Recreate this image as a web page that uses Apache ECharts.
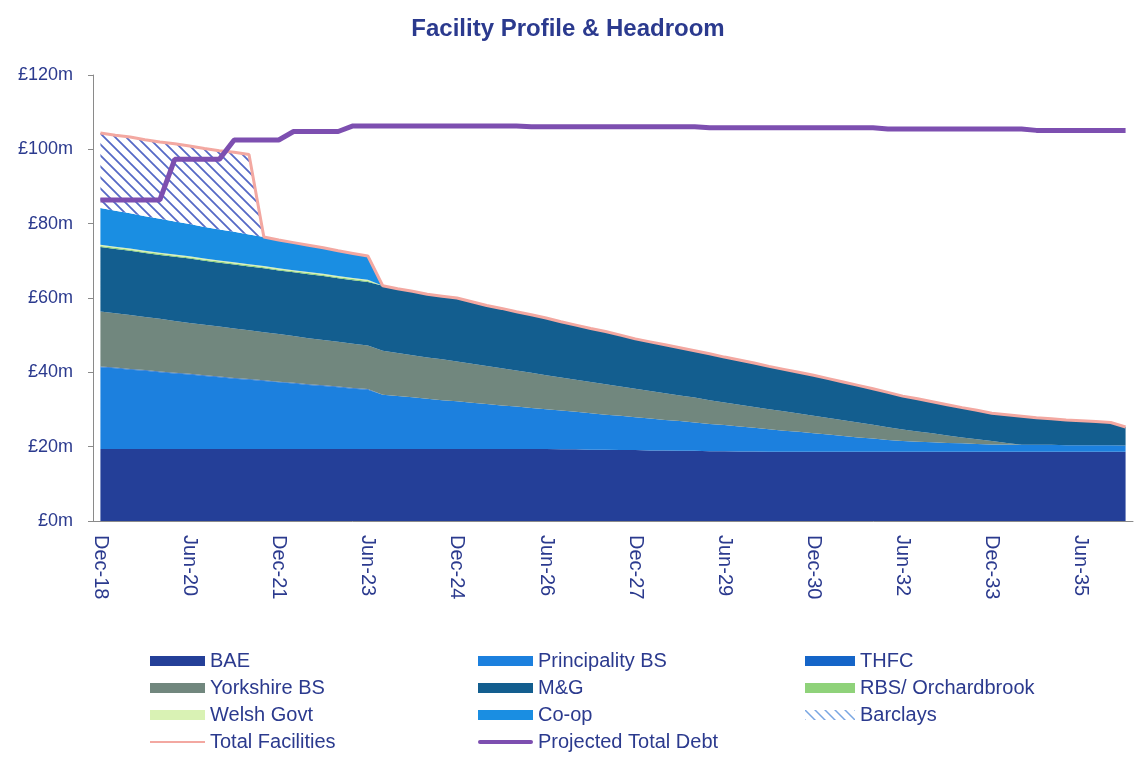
<!DOCTYPE html>
<html>
<head>
<meta charset="utf-8">
<script src="https://cdn.jsdelivr.net/npm/echarts@6/dist/echarts.min.js"></script>
<style>
html,body{margin:0;padding:0;background:#fff;}
#chart{width:1136px;height:763px;}
</style>
</head>
<body>
<div id="chart"></div>
<script>
const categories = [
'Dec-18','Mar-19','Jun-19','Sep-19','Dec-19','Mar-20','Jun-20','Sep-20','Dec-20','Mar-21',
'Jun-21','Sep-21','Dec-21','Mar-22','Jun-22','Sep-22','Dec-22','Mar-23','Jun-23','Sep-23',
'Dec-23','Mar-24','Jun-24','Sep-24','Dec-24','Mar-25','Jun-25','Sep-25','Dec-25','Mar-26',
'Jun-26','Sep-26','Dec-26','Mar-27','Jun-27','Sep-27','Dec-27','Mar-28','Jun-28','Sep-28',
'Dec-28','Mar-29','Jun-29','Sep-29','Dec-29','Mar-30','Jun-30','Sep-30','Dec-30','Mar-31',
'Jun-31','Sep-31','Dec-31','Mar-32','Jun-32','Sep-32','Dec-32','Mar-33','Jun-33','Sep-33',
'Dec-33','Mar-34','Jun-34','Sep-34','Dec-34','Mar-35','Jun-35','Sep-35','Dec-35','Mar-36'];

const yTicks = [0, 20, 40, 60, 80, 100, 120];

const bae = [
19.4,19.4,19.4,19.4,19.4,19.4,19.4,19.4,19.4,19.4,
19.4,19.4,19.4,19.4,19.4,19.4,19.4,19.4,19.4,19.4,
19.4,19.4,19.4,19.4,19.4,19.4,19.4,19.4,19.4,19.4,
19.4,19.3,19.3,19.2,19.2,19.1,19.1,19.0,19.0,18.9,
18.9,18.8,18.8,18.7,18.7,18.6,18.6,18.6,18.6,18.6,
18.6,18.6,18.6,18.6,18.6,18.6,18.6,18.6,18.6,18.6,
18.6,18.6,18.6,18.6,18.6,18.6,18.6,18.6,18.6,18.6];

const principality = [
22.0,21.7,21.3,21.0,20.6,20.3,20.0,19.6,19.3,18.9,
18.6,18.3,17.9,17.6,17.2,16.9,16.6,16.2,15.9,14.6,
14.2,13.9,13.5,13.1,12.8,12.4,12.1,11.7,11.4,11.0,
10.7,10.4,10.1,9.8,9.4,9.2,8.8,8.6,8.2,8.0,
7.6,7.3,7.0,6.7,6.4,6.1,5.7,5.4,5.0,4.7,
4.3,3.9,3.6,3.2,2.9,2.7,2.6,2.4,2.3,2.1,
2.0,2.0,1.9,1.9,1.9,1.8,1.8,1.8,1.8,1.7];

const thfc = [
0.2,0.2,0.2,0.2,0.2,0.2,0.2,0.2,0.2,0.2,
0.2,0.2,0.2,0.2,0.2,0.2,0.2,0.2,0.2,0,
0,0,0,0,0,0,0,0,0,0,
0,0,0,0,0,0,0,0,0,0,
0,0,0,0,0,0,0,0,0,0,
0,0,0,0,0,0,0,0,0,0,
0,0,0,0,0,0,0,0,0,0];

const yorkshire = [
14.8,14.6,14.5,14.3,14.2,13.9,13.7,13.6,13.4,13.3,
13.1,12.9,12.8,12.6,12.4,12.2,12.0,11.9,11.7,11.8,
11.6,11.3,11.1,11.0,10.7,10.5,10.2,10.0,9.7,9.5,
9.1,8.9,8.6,8.4,8.2,7.9,7.7,7.4,7.2,6.9,
6.7,6.4,6.1,5.9,5.6,5.4,5.2,4.9,4.7,4.4,
4.2,4.0,3.7,3.4,3.1,2.8,2.4,2.0,1.6,1.3,
0.9,0.4,0,0,0,0,0,0,0,0];

const mg = [
17.3,17.3,17.3,17.2,17.2,17.3,17.3,17.2,17.2,17.2,
17.2,17.2,17.1,17.1,17.2,17.2,17.1,17.1,17.1,17.5,
17.3,17.2,17.0,17.0,17.1,16.7,16.3,16.1,15.8,15.6,
15.4,15.0,14.7,14.4,14.2,13.8,13.4,13.2,13.0,12.8,
12.6,12.5,12.2,12.0,11.8,11.5,11.3,11.1,10.9,10.6,
10.3,10.0,9.7,9.4,9.0,8.8,8.5,8.3,8.0,7.8,
7.5,7.6,7.7,7.3,7.0,6.8,6.6,6.4,6.1,5.0];

const rbs = [
0.3,0.3,0.3,0.3,0.3,0.3,0.3,0.3,0.3,0.3,
0.3,0.3,0.3,0.3,0.3,0.3,0.3,0.3,0.3,0,
0,0,0,0,0,0,0,0,0,0,
0,0,0,0,0,0,0,0,0,0,
0,0,0,0,0,0,0,0,0,0,
0,0,0,0,0,0,0,0,0,0,
0,0,0,0,0,0,0,0,0,0];

const welsh = [
0.3,0.3,0.3,0.3,0.3,0.3,0.3,0.3,0.3,0.3,
0.3,0.3,0.3,0.3,0.3,0.3,0.3,0.3,0.3,0,
0,0,0,0,0,0,0,0,0,0,
0,0,0,0,0,0,0,0,0,0,
0,0,0,0,0,0,0,0,0,0,
0,0,0,0,0,0,0,0,0,0,
0,0,0,0,0,0,0,0,0,0];

const coop = [
9.9,9.7,9.5,9.3,9.1,8.9,8.7,8.5,8.3,8.2,
8.0,7.8,7.6,7.4,7.2,7.0,6.8,6.6,6.4,0,
0,0,0,0,0,0,0,0,0,0,
0,0,0,0,0,0,0,0,0,0,
0,0,0,0,0,0,0,0,0,0,
0,0,0,0,0,0,0,0,0,0,
0,0,0,0,0,0,0,0,0,0];

const barclays = [
20.2,20.3,20.5,20.6,20.7,20.9,21.0,21.1,21.2,21.4,
21.5,0,0,0,0,0,0,0,0,0,
0,0,0,0,0,0,0,0,0,0,
0,0,0,0,0,0,0,0,0,0,
0,0,0,0,0,0,0,0,0,0,
0,0,0,0,0,0,0,0,0,0,
0,0,0,0,0,0,0,0,0,0];

const projectedDebt = [
86.4,86.4,86.4,86.4,86.4,97.3,97.3,97.3,97.3,102.5,
102.5,102.5,102.5,104.8,104.8,104.8,104.8,106.3,106.3,106.3,
106.3,106.3,106.3,106.3,106.3,106.3,106.3,106.3,106.3,106.1,
106.1,106.1,106.1,106.1,106.1,106.1,106.1,106.1,106.1,106.1,
106.1,105.8,105.8,105.8,105.8,105.8,105.8,105.8,105.8,105.8,
105.8,105.8,105.8,105.5,105.5,105.5,105.5,105.5,105.5,105.5,
105.5,105.5,105.5,105.1,105.1,105.1,105.1,105.1,105.1,105.1];

const stackSeries = [
  {name:'BAE', data:bae, color:'#243f98'},
  {name:'Principality BS', data:principality, color:'#1c80de'},
  {name:'THFC', data:thfc, color:'#1565c8'},
  {name:'Yorkshire BS', data:yorkshire, color:'#71877e'},
  {name:'M&G', data:mg, color:'#135e8f'},
  {name:'RBS/ Orchardbrook', data:rbs, color:'#8fd27a'},
  {name:'Welsh Govt', data:welsh, color:'#d9f2b4'},
  {name:'Co-op', data:coop, color:'#1a8ee2'},
  {name:'Barclays', data:barclays, color:null}
];

// total facilities = sum of all facility series
const totalFacilities = categories.map((_, i) =>
  +stackSeries.reduce((s, ser) => s + ser.data[i], 0).toFixed(2));

function makeHatch(size, color, width, bg) {
  const c = document.createElement('canvas');
  c.width = size; c.height = size;
  const ctx = c.getContext('2d');
  if (bg) { ctx.fillStyle = bg; ctx.fillRect(0, 0, size, size); }
  ctx.strokeStyle = color;
  ctx.lineWidth = width;
  ctx.beginPath();
  ctx.moveTo(-2, -2); ctx.lineTo(size + 2, size + 2);
  ctx.moveTo(-2, size - 2); ctx.lineTo(2, size + 2);
  ctx.moveTo(size - 2, -2); ctx.lineTo(size + 2, 2);
  ctx.stroke();
  return c;
}
const hatchPattern = {image: makeHatch(11, '#5569c6', 1.8, '#ffffff'), repeat: 'repeat'};
const hatchLegendPattern = {image: makeHatch(10, '#79a6e2', 1.5, null), repeat: 'repeat'};

const navy = '#2b3a8e';
const font = '"Liberation Sans", Arial, sans-serif';

const series = stackSeries.map(s => ({
  name: s.name,
  type: 'line',
  stack: 'facilities',
  data: s.data,
  symbol: 'none',
  showSymbol: false,
  lineStyle: {width: 0},
  areaStyle: {color: s.color || hatchPattern, opacity: 1},
  itemStyle: {color: s.color || '#79a6e2'},
  emphasis: {disabled: true},
  z: 2
}));
series.push({
  name: 'Total Facilities', type: 'line', data: totalFacilities,
  symbol: 'none', showSymbol: false,
  lineStyle: {color: '#f3a8a1', width: 3},
  itemStyle: {color: '#f3a8a1'},
  z: 4
});
series.push({
  name: 'Projected Total Debt', type: 'line', data: projectedDebt,
  symbol: 'none', showSymbol: false,
  lineStyle: {color: '#7d4fb0', width: 5},
  itemStyle: {color: '#7d4fb0'},
  z: 5
});

const legendCommon = {
  orient: 'vertical', top: 651, padding: 0, itemGap: 7, itemWidth: 55, itemHeight: 10,
  selectedMode: false,
  textStyle: {color: navy, fontSize: 20, fontFamily: font, lineHeight: 20}
};

const chart = echarts.init(document.getElementById('chart'), null, {renderer: 'canvas'});
chart.setOption({
  animation: false,
  backgroundColor: '#ffffff',
  title: {
    text: 'Facility Profile & Headroom', left: 'center', top: 12,
    textStyle: {color: navy, fontSize: 24, fontWeight: 'bold', fontFamily: font}
  },
  grid: {left: 93, right: 3, top: 75, bottom: 242},
  legend: [
    Object.assign({}, legendCommon, {left: 150, data: [
      {name: 'BAE', icon: 'rect'},
      {name: 'Yorkshire BS', icon: 'rect'},
      {name: 'Welsh Govt', icon: 'rect'},
      {name: 'Total Facilities', icon: 'path://M0,0 H55 V2 H0 Z'}
    ]}),
    Object.assign({}, legendCommon, {left: 478, data: [
      {name: 'Principality BS', icon: 'rect'},
      {name: 'M&G', icon: 'rect'},
      {name: 'Co-op', icon: 'rect'},
      {name: 'Projected Total Debt', icon: 'path://M2,0 H53 A2,2 0 0 1 53,4 H2 A2,2 0 0 1 2,0 Z'}
    ]}),
    Object.assign({}, legendCommon, {left: 805, itemWidth: 50, data: [
      {name: 'THFC', icon: 'rect'},
      {name: 'RBS/ Orchardbrook', icon: 'rect'},
      {name: 'Barclays', icon: 'rect', itemStyle: {color: hatchLegendPattern}}
    ]})
  ],
  xAxis: {
    type: 'category', data: categories, boundaryGap: true,
    axisLine: {lineStyle: {color: '#8a8a8a', width: 1}},
    axisTick: {interval: 0, length: 4, lineStyle: {color: '#8a8a8a'}},
    axisLabel: {interval: 5, rotate: -90, margin: 14, color: navy, fontSize: 20, fontFamily: font},
    splitLine: {show: false}
  },
  yAxis: {
    type: 'value', min: yTicks[0], max: yTicks[yTicks.length-1], interval: 20,
    axisLine: {show: true, lineStyle: {color: '#8a8a8a', width: 1}},
    axisTick: {show: true, length: 5, lineStyle: {color: '#8a8a8a'}},
    axisLabel: {margin: 20, color: navy, fontSize: 18, fontFamily: font,
      formatter: v => '£' + v + 'm'},
    splitLine: {show: false}
  },
  series: series
});
</script>
</body>
</html>
